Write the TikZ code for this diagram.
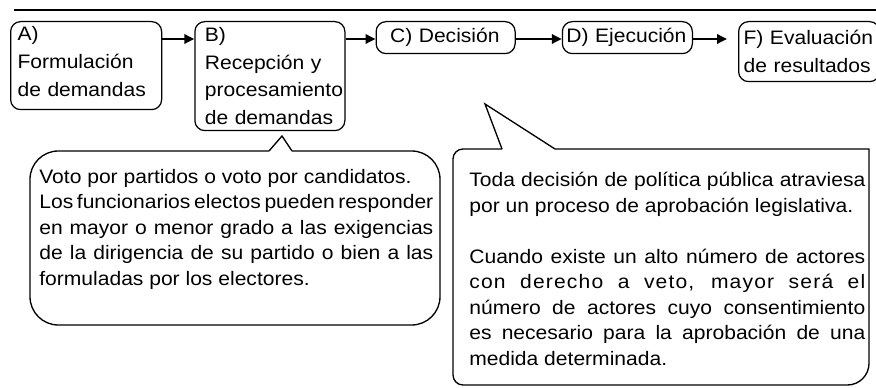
\documentclass[tikz,border=0pt]{standalone}
\usepackage{fontspec}
\setmainfont{Liberation Sans}[FakeStretch=1.08]
\usepackage{tikz}
\usetikzlibrary{arrows.meta}
\usetikzlibrary{positioning}
\tikzstyle{stage} = [draw, line width=0.75pt, rounded corners=6pt, align=left, anchor=north west, inner ysep=1pt, font=\fontsize{11.7pt}{16.6pt}\selectfont]
\tikzstyle{note} = [anchor=north west, inner sep=0pt, align=justify, font=\fontsize{11.7pt}{15.3pt}\selectfont, execute at begin node={\spaceskip=0.3em plus 0.5em minus 0.16em\hyphenpenalty=10000}]
\tikzstyle{bubble} = [line width=0.8pt]
\tikzstyle{arrow} = [line width=1.4pt, -{Triangle[length=6pt, width=5.6pt]}]

\begin{document}
\begin{tikzpicture}[x=0.6pt, y=-0.6pt]
                        \useasboundingbox (0,0) rectangle (876,388);
                        \draw[line width=0.75pt] (14,10) -- (876,10);
                        % etapas
                        \node (A) [stage, text width=82.2pt, inner xsep=4.2pt, minimum height=52.8pt] at (10,21) {A)\\Formulación\\de demandas\strut};
                        \node (B) [stage, right=19.2pt of A.north east, anchor=north west, text width=78pt, inner xsep=6pt, minimum height=65.4pt] {B)\\Recepción y\\procesamiento\\de demandas};
                        \node (C) [stage, right=18pt of B.north east, anchor=north west, text width=66.6pt, inner xsep=8.4pt, minimum height=19.2pt] {C) Decisión};
                        \node (D) [stage, right=27.6pt of C.north east, anchor=north west, text width=73.2pt, inner xsep=2.4pt, minimum height=19.2pt] {D) Ejecución};
                        \node (F) [stage, right=27pt of D.north east, anchor=north west, text width=78.6pt, inner xsep=3pt, minimum height=36pt] {F) Evaluación\\de resultados};
                        \coordinate (row) at (0,39);
                        \draw[arrow] (A.east |- row) -- (B.west |- row);
                        \draw[arrow] (B.east |- row) -- (C.west |- row);
                        \draw[arrow] (C.east |- row) -- (D.west |- row);
                        \draw[arrow, shorten >=6.6pt] (D.east |- row) -- (F.west |- row);
                        % globos
                        \node (vote) [note, text width=236.4pt] at (39,169) {Voto por partidos o voto por candidatos.\\Los funcionarios electos pueden responder\linebreak en mayor o menor grado a las exigencias\linebreak de la dirigencia de su partido o bien a las\linebreak formuladas por los electores.};
                        \draw[bubble, rounded corners=17pt] (292,151) -- (440,151) -- (440,325) -- (30,325) -- (30,151) -- (269,151);
                        \draw[bubble] (269,151) -- (282,136) -- (292,151);
                        \node (veto) [note, text width=237.6pt] at (469,172) {Toda decisión de política pública atraviesa\linebreak por un proceso de aprobación legislativa.\\[15.3pt]Cuando existe un alto número de actores\linebreak {\addfontfeature{LetterSpace=6}con derecho a veto, mayor será el}\linebreak número de actores cuyo consentimiento\linebreak es necesario para la aprobación de una\linebreak medida determinada.};
                        \draw[bubble] (555,149) -- (869,149) [rounded corners=13pt] -- (869,385) [rounded corners=6pt] -- (453,385) -- (453,149) [rounded corners=15pt] -- (502,149);
                        \draw[bubble] (502,149) -- (485,104) -- (555,149);
                    \end{tikzpicture}
\end{document}
